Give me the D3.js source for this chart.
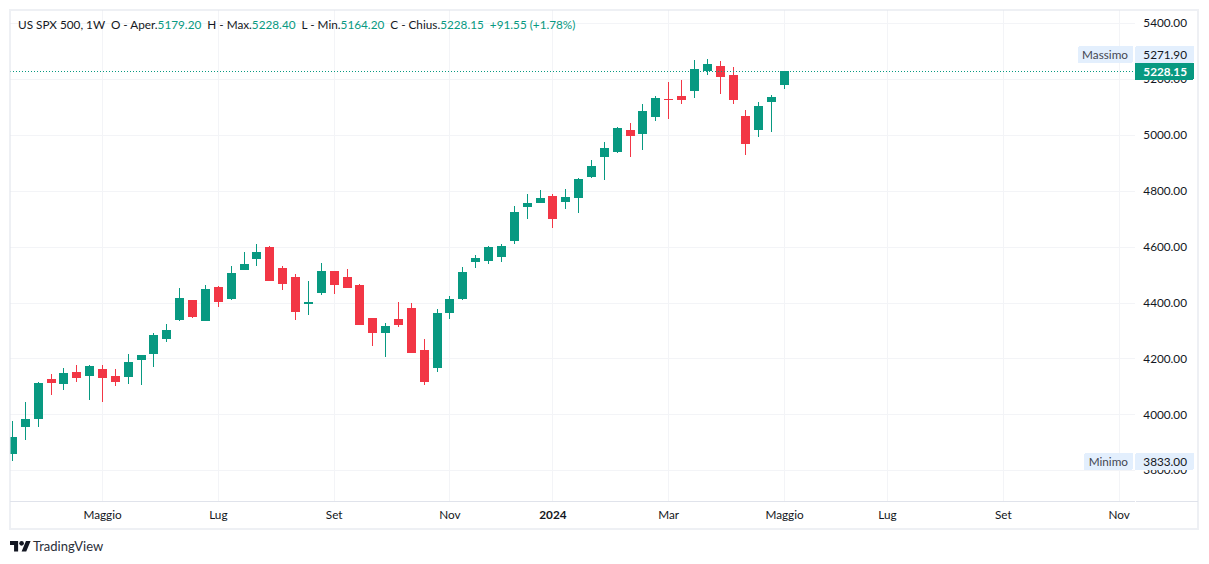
<!DOCTYPE html>
<html>
<head>
<meta charset="utf-8">
<script src="https://cdn.jsdelivr.net/npm/d3@7/dist/d3.min.js"></script>
<style>
  body { margin: 0; background: #fff; }
  text { font-family: Lato, sans-serif; font-size: 11.75px; fill: #131722; }
  .tick line, .domain { display: none; }
</style>
</head>
<body>
<svg id="chart" width="1209" height="564"></svg>
<script>
// weekly candles, first one starts on this monday
const firstWeek = "2023-03-06";

const opens  = [3859,3955,3983,4126,4109,4152,4137,4162,4137,4134,4194,4216,4270,4338,4409,4334,4456,4413,4517,4556,4599,4524,4492,4395,4434,4513,4492,4463,4345,4291,4341,4381,4230,4166,4363,4413,4545,4549,4563,4620,4742,4756,4781,4760,4774,4849,4921,4939,5018,5003,5064,5129,5139,5157,5229,5247,5214,5068,5018,5118,5179.2];
const highs  = [3976,4044,4116,4144,4166,4177,4177,4177,4162,4216,4212,4291,4323,4452,4409,4463,4459,4531,4581,4610,4602,4531,4502,4477,4542,4513,4520,4466,4345,4327,4402,4398,4270,4377,4424,4527,4570,4602,4610,4746,4789,4803,4789,4806,4846,4910,4975,5028,5043,5111,5139,5189,5197,5268,5271.9,5265,5243,5089,5118,5143,5228.4];
const lows   = [3833,3908,3955,4069,4087,4116,4051,4044,4101,4109,4105,4169,4259,4334,4345,4334,4384,4409,4517,4531,4477,4445,4338,4356,4427,4431,4452,4320,4245,4205,4313,4220,4105,4152,4341,4409,4524,4538,4545,4610,4699,4756,4667,4735,4721,4846,4839,4935,4921,4946,5050,5057,5111,5132,5214,5146,5111,4928,4993,5011,5164.2];
const closes = [3919,3983,4112,4112,4148,4130,4173,4130,4116,4187,4212,4284,4302,4416,4348,4449,4402,4506,4538,4581,4477,4466,4366,4402,4513,4463,4452,4320,4291,4316,4320,4220,4116,4363,4413,4509,4560,4599,4602,4724,4756,4774,4699,4778,4842,4889,4953,5025,4996,5086,5132,5125,5125,5236,5254,5207,5125,4968,5104,5136,5228.15];

const priceTicks = [3800,4000,4200,4400,4600,4800,5000,5200,5400];
const monthTicks = ["2023-04-24","2023-06-26","2023-08-28","2023-10-30","2023-12-25","2024-02-26","2024-04-29","2024-06-24","2024-08-26","2024-10-28"];
const monthLabels = ["Maggio","Lug","Set","Nov","2024","Mar","Maggio","Lug","Set","Nov"];

const lastPrice = 5228.15, maxPrice = 5271.90, minPrice = 3833.00;

const legend = [
  ["US SPX 500, 1W  O - Aper.", "#131722"], ["5179.20", "#089981"],
  ["  H - Max.", "#131722"], ["5228.40", "#089981"],
  ["  L - Min.", "#131722"], ["5164.20", "#089981"],
  ["  C - Chius.", "#131722"], ["5228.15", "#089981"],
  ["  +91.55 (+1.78%)", "#089981"]
];

const up = "#089981", down = "#F23645", grid = "#f3f4f7", pill = "#e3effd";
const paneRight = 1135, paneBottom = 501;

const parse = d3.utcParse("%Y-%m-%d");
const start = parse(firstWeek);
const weeks = opens.map((d, i) => d3.utcMonday.offset(start, i));
const tickDates = monthTicks.map(parse);

const x = d3.scaleUtc()
  .domain([start, tickDates[tickDates.length - 1]])
  .range([11.95, 1118.6]);
const y = d3.scaleLinear().domain([4000, 5200]).range([414.3, 79]);

const px = v => Math.round(x(v));
const py = v => Math.round(y(v));

const svg = d3.select("#chart").attr("shape-rendering", "crispEdges");

svg.append("defs").append("clipPath").attr("id", "pane")
  .append("rect").attr("x", 10).attr("y", 10).attr("width", paneRight - 10).attr("height", paneBottom - 10);

// grid
svg.append("g").selectAll("rect").data(priceTicks.filter(d => y(d) > 11)).enter().append("rect")
  .attr("x", 10).attr("width", paneRight - 10).attr("y", py).attr("height", 1).attr("fill", grid);
svg.append("g").selectAll("rect").data(tickDates).enter().append("rect")
  .attr("x", px).attr("width", 1).attr("y", 10).attr("height", paneBottom - 10).attr("fill", grid);

// candles
const idx = d3.range(opens.length);
const candles = svg.append("g").attr("clip-path", "url(#pane)");
const color = i => closes[i] >= opens[i] ? up : down;

candles.selectAll(".wick").data(idx).enter().append("rect")
  .attr("class", "wick")
  .attr("x", i => px(weeks[i]))
  .attr("width", 1)
  .attr("y", i => py(highs[i]))
  .attr("height", i => Math.max(1, py(lows[i]) - py(highs[i])))
  .attr("fill", color);

candles.selectAll(".body").data(idx).enter().append("rect")
  .attr("class", "body")
  .attr("x", i => px(weeks[i]) - 4)
  .attr("width", 9)
  .attr("y", i => py(Math.max(opens[i], closes[i])))
  .attr("height", i => Math.max(1, py(Math.min(opens[i], closes[i])) - py(Math.max(opens[i], closes[i]))))
  .attr("fill", color);

// last price line
svg.append("line")
  .attr("x1", 10).attr("x2", paneRight)
  .attr("y1", py(lastPrice) + 0.5).attr("y2", py(lastPrice) + 0.5)
  .attr("stroke", up).attr("stroke-dasharray", "1 2");

// axes
const yAxis = svg.append("g").attr("transform", "translate(1187,0)")
  .call(d3.axisLeft(y).tickValues(priceTicks).tickFormat(d3.format(".2f")).tickSize(0).tickPadding(0));

const xAxis = svg.append("g").attr("transform", "translate(0,508)")
  .call(d3.axisBottom(x).tickValues(tickDates).tickFormat((d, i) => monthLabels[i]).tickSize(0).tickPadding(0));
xAxis.selectAll("text").attr("dy", "0.95em")
  .style("font-weight", (d, i) => monthLabels[i] === "2024" ? "bold" : null);

// separators and frame
svg.append("rect").attr("x", 10).attr("y", paneBottom).attr("width", paneRight - 10).attr("height", 1).attr("fill", "#e0e3eb");
svg.append("rect").attr("x", paneRight + 1).attr("y", paneBottom).attr("width", 1198 - paneRight - 1).attr("height", 1).attr("fill", "#e0e3eb");
svg.append("rect").attr("x", 10).attr("y", 10).attr("width", 1188).attr("height", 519)
  .attr("fill", "none").attr("stroke", "#e0e3eb").attr("stroke-opacity", 0.55).attr("stroke-width", 2);

// price labels on the scale
function pricePill(name, value, top, left) {
  svg.append("rect").attr("x", left).attr("y", top).attr("width", 1133 - left).attr("height", 17).attr("rx", 2).attr("fill", pill);
  svg.append("rect").attr("x", 1135).attr("y", top).attr("width", 59).attr("height", 17).attr("rx", 2).attr("fill", pill);
  svg.append("text").attr("x", 1128).attr("y", top + 13).attr("text-anchor", "end").style("fill", "#434651").text(name);
  svg.append("text").attr("x", 1187).attr("y", top + 13).attr("text-anchor", "end").text(d3.format(".2f")(value));
}
pricePill("Massimo", maxPrice, 46, 1078);
pricePill("Minimo", minPrice, Math.round(y(minPrice)) - 8, 1084);

svg.append("rect").attr("x", 1135).attr("y", py(lastPrice) - 8.5).attr("width", 59).attr("height", 17.5).attr("rx", 2).attr("fill", up);
svg.append("text").attr("x", 1187).attr("y", py(lastPrice) + 5).attr("text-anchor", "end")
  .style("fill", "#fff").style("font-weight", "bold").text(d3.format(".2f")(lastPrice));

// legend
const legendText = svg.append("text").attr("x", 18).attr("y", 29).style("white-space", "pre");
legendText.selectAll("tspan").data(legend).enter().append("tspan")
  .text(d => d[0]).style("fill", d => d[1]);

// logo
const logo = svg.append("g").attr("transform", "translate(10,538.7) scale(0.58)").attr("shape-rendering", "auto").attr("fill", "#131722");
logo.append("path").attr("d", "M14 22H7V11H0V4h14v18zM28 22h-8l7.5-18h8L28 22z");
logo.append("circle").attr("cx", 20).attr("cy", 8).attr("r", 4);
svg.append("text").attr("x", 33).attr("y", 551).style("font-size", "13px").style("fill", "#2a2e39").text("TradingView");
</script>
</body>
</html>
